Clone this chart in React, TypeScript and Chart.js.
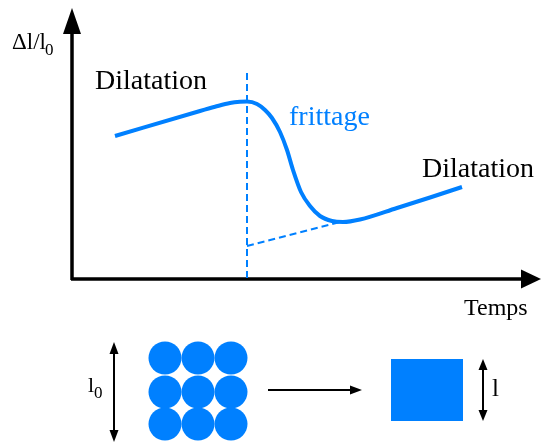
import { useEffect, useRef } from "react";
import { Chart, registerables } from "chart.js";
Chart.register(...registerables);

const BLUE = "#0080ff";
const W = 542;
const H = 443;

// Sintering curve (schematic, in figure units)
const curveX = [115, 200, 215, 230, 240, 247, 257, 265, 272, 280, 287, 293, 301, 310, 320, 332, 343, 360, 397, 430, 462];
const curveY = [136, 111, 106.8, 103, 101.8, 101.6, 104, 110, 118, 132, 150, 170, 192, 206, 216, 221, 222, 219.5, 208, 197.5, 187];

// dashed guides
const dashVertX = [247, 247];
const dashVertY = [73, 279];
const dashBaseX = [247, 340];
const dashBaseY = [246, 222];

// axes (shaft start, arrow tip)
const axisYX = [72, 72];
const axisYY = [280, 8];
const axisXX = [71, 541];
const axisXY = [279, 279];

// bottom illustration
const circleX = [165, 198, 231];
const circleY = [358, 392, 424];
const squareX = [391, 463];
const squareY = [359, 421];
const midArrowX = [268, 362];
const midArrowY = [390, 390];
const leftArrowX = [114, 114];
const leftArrowY = [342, 442];
const rightArrowX = [483, 483];
const rightArrowY = [359, 421];

// labels
const labelTexts = ["Dilatation", "frittage", "Dilatation", "Temps"];
const labelX = [95, 289, 422, 464];
const labelY = [89, 125, 177, 315];

const pts = (xs: number[], ys: number[]) => xs.map((x, i) => ({ x, y: ys[i] }));

const circlePts: { x: number; y: number }[] = [];
circleY.forEach((y) => circleX.forEach((x) => circlePts.push({ x, y })));

export default function App() {
  const ref = useRef<HTMLCanvasElement | null>(null);

  useEffect(() => {
    document.body.style.margin = "0";
    const canvas = ref.current!;
    let chart: Chart | null = null;
    let cancelled = false;

    const overlay = {
      id: "overlay",
      afterDatasetsDraw(c: any) {
        const ctx = c.ctx as CanvasRenderingContext2D;
        const sx = c.scales.x;
        const sy = c.scales.y;
        const px = (v: number) => sx.getPixelForValue(v);
        const py = (v: number) => sy.getPixelForValue(v);
        ctx.save();

        // square
        ctx.fillStyle = BLUE;
        ctx.fillRect(px(squareX[0]), py(squareY[0]), px(squareX[1]) - px(squareX[0]), py(squareY[1]) - py(squareY[0]));

        // arrowheads
        const head = (tx: number, ty: number, dx: number, dy: number, len: number, half: number) => {
          const x = px(tx), y = py(ty);
          const bx = x - dx * len, by = y - dy * len;
          const nx = -dy, ny = dx;
          ctx.beginPath();
          ctx.moveTo(x, y);
          ctx.lineTo(bx + nx * half, by + ny * half);
          ctx.lineTo(bx - nx * half, by - ny * half);
          ctx.closePath();
          ctx.fillStyle = "#000";
          ctx.fill();
        };
        head(axisYX[1], axisYY[1], 0, -1, 26, 9);
        head(axisXX[1], axisXY[1], 1, 0, 20, 9.5);
        head(midArrowX[1], midArrowY[1], 1, 0, 12, 4.5);
        head(leftArrowX[0], leftArrowY[0], 0, -1, 12, 4.5);
        head(leftArrowX[1], leftArrowY[1], 0, 1, 12, 4.5);
        head(rightArrowX[0], rightArrowY[0], 0, -1, 11, 4.5);
        head(rightArrowX[1], rightArrowY[1], 0, 1, 11, 4.5);

        // labels
        ctx.textBaseline = "alphabetic";
        ctx.textAlign = "left";
        labelTexts.forEach((t, i) => {
          ctx.font = i === 3 ? '24px "Liberation Serif"' : '28px "Liberation Serif"';
          ctx.fillStyle = i === 1 ? BLUE : "#000";
          ctx.fillText(t, px(labelX[i]), py(labelY[i]));
        });
        ctx.fillStyle = "#000";
        ctx.font = '23px "Liberation Serif"';
        ctx.fillText("Δl/l", px(12), py(49));
        ctx.font = '22px "Liberation Serif"';
        ctx.fillText("l", px(88), py(392));
        ctx.font = '17px "Liberation Serif"';
        ctx.fillText("0", px(45), py(55));
        ctx.fillText("0", px(94), py(398));
        ctx.font = '25px "Liberation Serif"';
        ctx.fillText("l", px(492), py(396));
        ctx.restore();
      },
    };

    const lineDs = (data: any, color: string, width: number, dash: number[] = []) => ({
      data,
      showLine: true,
      borderColor: color,
      borderWidth: width,
      borderDash: dash,
      pointRadius: 0,
      pointHoverRadius: 0,
      fill: false,
      clip: false,
    });

    const build = () => {
      if (cancelled) return;
      chart = new Chart(canvas, {
        type: "scatter",
        data: {
          datasets: [
            lineDs(pts(dashVertX, dashVertY), BLUE, 2, [7, 4]),
            lineDs(pts(dashBaseX, dashBaseY), BLUE, 2, [7, 4]),
            { ...lineDs(pts(curveX, curveY), BLUE, 4), cubicInterpolationMode: "monotone" },
            lineDs(pts(axisYX, [axisYY[0], axisYY[1] + 20]), "#000", 3.5),
            lineDs(pts([axisXX[0], axisXX[1] - 15], axisXY), "#000", 3.5),
            lineDs(pts([midArrowX[0], midArrowX[1] - 8], midArrowY), "#000", 2),
            lineDs(pts(leftArrowX, [leftArrowY[0] + 8, leftArrowY[1] - 8]), "#000", 2),
            lineDs(pts(rightArrowX, [rightArrowY[0] + 8, rightArrowY[1] - 8]), "#000", 2),
            {
              data: circlePts,
              pointRadius: 16.5,
              pointHoverRadius: 16.5,
              backgroundColor: BLUE,
              borderWidth: 0,
              showLine: false,
              clip: false,
            },
          ] as any,
        },
        options: {
          animation: false,
          responsive: false,
          devicePixelRatio: 1,
          layout: { padding: 0, autoPadding: false },
          events: [],
          plugins: { legend: { display: false }, tooltip: { enabled: false } },
          scales: {
            x: { type: "linear", min: 0, max: W, display: false },
            y: { type: "linear", min: 0, max: H, reverse: true, display: false },
          },
        },
        plugins: [overlay],
      });
    };

    const fontsReady = (document as any).fonts
      ? Promise.all([
          (document as any).fonts.load('28px "Liberation Serif"'),
          (document as any).fonts.load('16px "Liberation Serif"'),
        ]).catch(() => null)
      : Promise.resolve(null);
    fontsReady.then(build);

    return () => {
      cancelled = true;
      if (chart) chart.destroy();
    };
  }, []);

  return (
    <div style={{ position: "absolute", left: 0, top: 0, width: W, height: H, background: "#fff" }}>
      <canvas ref={ref} width={W} height={H} />
    </div>
  );
}
